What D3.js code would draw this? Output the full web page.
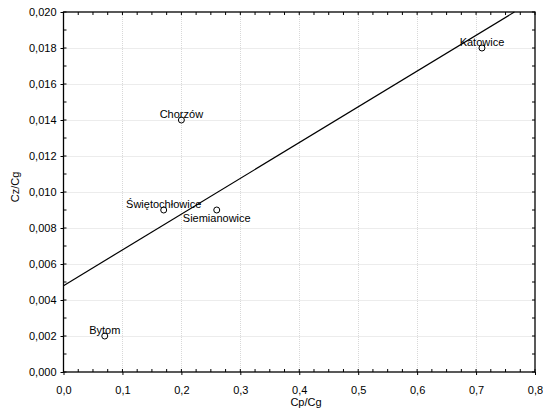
<!DOCTYPE html>
<html>
<head>
<meta charset="utf-8">
<script src="https://cdn.jsdelivr.net/npm/d3@7"></script>
<style>
  body { margin: 0; background: #fff; }
  text { font-family: "Liberation Sans", Arial, sans-serif; fill: #000; }
</style>
</head>
<body>
<div id="chart"></div>
<script>
// data
const cities = ['Bytom', 'Chorzów', 'Świętochłowice', 'Siemianowice', 'Katowice']
const cpcg = [0.07, 0.20, 0.17, 0.26, 0.71]
const czcg = [0.002, 0.014, 0.009, 0.009, 0.018]
// label placement: 'above' or 'below' the point
const labelSide = ['above', 'above', 'above', 'below', 'above']

const xTicks = [0, 0.1, 0.2, 0.3, 0.4, 0.5, 0.6, 0.7, 0.8]
const yTicks = [0, 0.002, 0.004, 0.006, 0.008, 0.010, 0.012, 0.014, 0.016, 0.018, 0.020]

const width = 543, height = 414
const margin = { top: 12, right: 8, bottom: 42, left: 63.5 }

const svg = d3.select('#chart').append('svg')
  .attr('width', width)
  .attr('height', height)

const x = d3.scaleLinear().domain([0, 0.8]).range([margin.left, width - margin.right])
const y = d3.scaleLinear().domain([0, 0.020]).range([height - margin.bottom, margin.top])

const fmtX = d => d3.format('.1f')(d).replace('.', ',')
const fmtY = d => d3.format('.3f')(d).replace('.', ',')

// grid
const grid = svg.append('g').attr('stroke', '#d8d8d8').attr('stroke-dasharray', '1,1')
grid.selectAll('.gx').data(xTicks.slice(1, -1)).join('line')
  .attr('x1', d => Math.round(x(d)) + 0.5).attr('x2', d => Math.round(x(d)) + 0.5)
  .attr('y1', y(0)).attr('y2', y(0.020))
grid.selectAll('.gy').data(yTicks.slice(1, -1)).join('line')
  .attr('y1', d => Math.round(y(d)) + 0.5).attr('y2', d => Math.round(y(d)) + 0.5)
  .attr('x1', x(0)).attr('x2', x(0.8))

// minor ticks (inside on all four sides)
const minorX = d3.range(0, 0.8001, 0.025)
const minorY = d3.range(0, 0.02001, 0.001)
const ticks = svg.append('g').attr('stroke', '#000').attr('stroke-width', 1)
ticks.selectAll('.mb').data(minorX).join('line')
  .attr('x1', d => x(d)).attr('x2', d => x(d))
  .attr('y1', y(0)).attr('y2', y(0) - 3)
ticks.selectAll('.mt').data(minorX).join('line')
  .attr('x1', d => x(d)).attr('x2', d => x(d))
  .attr('y1', y(0.020)).attr('y2', y(0.020) + 3)
ticks.selectAll('.ml').data(minorY).join('line')
  .attr('y1', d => y(d)).attr('y2', d => y(d))
  .attr('x1', x(0)).attr('x2', x(0) + 3)
ticks.selectAll('.mr').data(minorY).join('line')
  .attr('y1', d => y(d)).attr('y2', d => y(d))
  .attr('x1', x(0.8)).attr('x2', x(0.8) - 3)

// axes
const xAxis = d3.axisBottom(x).tickValues(xTicks).tickFormat(fmtX).tickSize(3).tickPadding(11)
const yAxis = d3.axisLeft(y).tickValues(yTicks).tickFormat(fmtY).tickSize(3).tickPadding(4)

const gx = svg.append('g').attr('transform', `translate(0,${y(0)})`).call(xAxis)
const gy = svg.append('g').attr('transform', `translate(${x(0)},0)`).call(yAxis)
;[gx, gy].forEach(g => {
  g.select('.domain').remove()
  g.selectAll('text').attr('font-size', 11).attr('font-family', '"Liberation Sans", Arial, sans-serif')
})

// frame
svg.append('rect')
  .attr('x', x(0)).attr('y', y(0.020))
  .attr('width', x(0.8) - x(0)).attr('height', y(0) - y(0.020))
  .attr('fill', 'none').attr('stroke', '#000').attr('stroke-width', 1.3)

// regression line fitted to the points
const mx = d3.mean(cpcg), my = d3.mean(czcg)
const sxy = d3.sum(cpcg, (v, i) => (v - mx) * (czcg[i] - my))
const sxx = d3.sum(cpcg, v => (v - mx) ** 2)
const slope = sxy / sxx
const intercept = my - slope * mx
const xEnd = Math.min(0.8, (0.020 - intercept) / slope)
svg.append('line')
  .attr('x1', x(0)).attr('y1', y(intercept))
  .attr('x2', x(xEnd)).attr('y2', y(intercept + slope * xEnd))
  .attr('stroke', '#000').attr('stroke-width', 1.2)

// points
const pts = cities.map((c, i) => ({ name: c, cx: cpcg[i], cy: czcg[i], side: labelSide[i] }))
svg.selectAll('.pt').data(pts).join('circle')
  .attr('class', 'pt')
  .attr('cx', d => x(d.cx)).attr('cy', d => y(d.cy))
  .attr('r', 3).attr('fill', 'none').attr('stroke', '#000').attr('stroke-width', 1)

svg.selectAll('.lbl').data(pts).join('text')
  .attr('class', 'lbl')
  .attr('x', d => x(d.cx))
  .attr('y', d => y(d.cy) + (d.side === 'below' ? 12 : -2.5))
  .attr('text-anchor', 'middle')
  .attr('font-size', 11)
  .text(d => d.name)

// axis titles
svg.append('text')
  .attr('x', 306).attr('y', 406)
  .attr('text-anchor', 'middle').attr('font-size', 11)
  .text('Cp/Cg')
svg.append('text')
  .attr('transform', `translate(19,${(y(0) + y(0.020)) / 2 - 5}) rotate(-90)`)
  .attr('text-anchor', 'middle').attr('font-size', 11)
  .text('Cz/Cg')
</script>
</body>
</html>
